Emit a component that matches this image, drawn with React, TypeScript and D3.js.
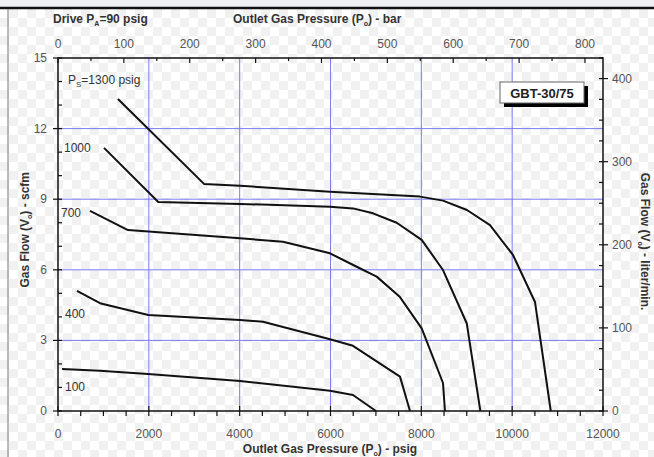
import * as d3 from "d3";

// outlet pressure (psig) vs gas flow (scfm), one array per supply pressure
const curve1300: [number, number][] = [
  [1320, 13.26], [3215, 9.65], [4007, 9.57], [5989, 9.32], [7971, 9.11],
  [8477, 8.94], [9005, 8.54], [9512, 7.9], [10018, 6.63], [10503, 4.63], [10850, 0],
];
const curve1000: [number, number][] = [
  [1013, 11.18], [2208, 8.88], [4007, 8.8], [5989, 8.68], [6495, 8.61],
  [6936, 8.4], [7457, 8.0], [8008, 7.27], [8477, 5.99], [8999, 3.73], [9300, 0],
];
const curve700: [number, number][] = [
  [705, 8.5], [1541, 7.69], [4007, 7.34], [4954, 7.19], [5989, 6.7],
  [6577, 6.13], [7017, 5.71], [7530, 4.84], [8008, 3.51], [8477, 1.19], [8520, 0],
];
const curve400: [number, number][] = [
  [418, 5.1], [925, 4.58], [1988, 4.08], [4007, 3.87], [4514, 3.79],
  [5989, 3.05], [6495, 2.77], [7530, 1.46], [7750, 0],
];
const curve100: [number, number][] = [
  [88, 1.78], [925, 1.71], [1982, 1.57], [4007, 1.27], [5989, 0.86], [6495, 0.68], [7000, 0],
];

const psigTicks = [0, 2000, 4000, 6000, 8000, 10000, 12000];
const scfmTicks = [0, 3, 6, 9, 12, 15];
const barTicks = [0, 100, 200, 300, 400, 500, 600, 700, 800];
const lpmTicks = [0, 100, 200, 300, 400];

const PSI_PER_BAR = 14.504;
const LPM_PER_SCFM = 28.317;

const W = 654;
const H = 457;
const font = "Arial, 'Liberation Sans', sans-serif";

export default function App() {
  const x = d3.scaleLinear().domain([0, 12000]).range([58, 603]);
  const y = d3.scaleLinear().domain([0, 15]).range([411, 58]);
  const xBar = (b: number) => x(b * PSI_PER_BAR);
  const yLpm = (l: number) => y(l / LPM_PER_SCFM);

  const line = d3
    .line<[number, number]>()
    .x((d) => x(d[0]))
    .y((d) => y(d[1]));

  const curves = [curve1300, curve1000, curve700, curve400, curve100];

  const minorPsig = d3.range(0, 12001, 500);
  const minorScfm = d3.range(0, 15.01, 1);
  const minorBar = d3.range(0, 801, 50);
  const minorLpm = d3.range(0, 426, 25);

  const tickCol = "#111";
  const labCol = "#555";

  return (
    <svg
      width={W}
      height={H}
      style={{ position: "absolute", left: 0, top: 0 }}
      fontFamily={font}
    >
      <defs>
        <pattern id="chk" width={18} height={18} patternUnits="userSpaceOnUse">
          <rect width={18} height={18} fill="#ffffff" />
          <rect width={9} height={9} fill="#f1f1f1" />
          <rect x={9} y={9} width={9} height={9} fill="#f1f1f1" />
        </pattern>
      </defs>
      <rect width={W} height={H} fill="url(#chk)" />
      <rect width={W} height={8} fill="#eef0f4" />
      <line x1={0} x2={W} y1={8} y2={8} stroke="#111" strokeWidth={2.5} />
      <line x1={8} x2={8} y1={9} y2={H} stroke="#777" strokeWidth={1} />

      {/* grid */}
      {psigTicks.slice(1, -1).map((t) => (
        <line key={"gx" + t} x1={x(t)} x2={x(t)} y1={y(15)} y2={y(0)} stroke="#7c7cf4" strokeWidth={1} />
      ))}
      {scfmTicks.slice(1, -1).map((t) => (
        <line key={"gy" + t} x1={x(0)} x2={x(12000)} y1={y(t)} y2={y(t)} stroke="#7c7cf4" strokeWidth={1} />
      ))}

      {/* frame */}
      <rect x={x(0)} y={y(15)} width={x(12000) - x(0)} height={y(0) - y(15)} fill="none" stroke="#111" strokeWidth={1.5} />

      {/* bottom ticks */}
      {minorPsig.map((t) => (
        <line key={"bt" + t} x1={x(t)} x2={x(t)} y1={y(0) - (t % 2000 === 0 ? 5 : 0)} y2={y(0) + 5} stroke={tickCol} strokeWidth={1.2} />
      ))}
      {psigTicks.map((t) => (
        <text key={"bl" + t} x={x(t)} y={438} fontSize={12} fill={labCol} textAnchor="middle">{t}</text>
      ))}

      {/* left ticks */}
      {minorScfm.map((t) => (
        <line key={"lt" + t} x1={x(0) - (t % 3 === 0 ? 5 : 0)} x2={x(0) + 4} y1={y(t)} y2={y(t)} stroke={tickCol} strokeWidth={1.2} />
      ))}
      {scfmTicks.map((t) => (
        <text key={"ll" + t} x={47} y={y(t) + 4} fontSize={12} fill={labCol} textAnchor="end">{t}</text>
      ))}

      {/* top ticks (bar) */}
      {minorBar.map((t) => (
        <line key={"tt" + t} x1={xBar(t)} x2={xBar(t)} y1={y(15)} y2={y(15) + (t % 100 === 0 ? 5 : 3)} stroke={tickCol} strokeWidth={1.2} />
      ))}
      {barTicks.map((t) => (
        <text key={"tl" + t} x={xBar(t)} y={48} fontSize={12} fill={labCol} textAnchor="middle">{t}</text>
      ))}

      {/* right ticks (liter/min) */}
      {minorLpm.map((t) => (
        <line key={"rt" + t} x1={x(12000) - 4} x2={x(12000) + (t % 100 === 0 ? 5 : 0)} y1={yLpm(t)} y2={yLpm(t)} stroke={tickCol} strokeWidth={1.2} />
      ))}
      {lpmTicks.map((t) => (
        <text key={"rl" + t} x={612} y={yLpm(t) + 4} fontSize={12} fill={labCol} textAnchor="start">{t}</text>
      ))}

      {/* curves */}
      {curves.map((c, i) => (
        <path key={"c" + i} d={line(c) ?? ""} fill="none" stroke="#111" strokeWidth={2} strokeLinejoin="round" />
      ))}

      {/* curve labels */}
      <g fontSize={12} fill="#333">
        <text x={68} y={84}>
          P<tspan fontSize={8} dy={3}>S</tspan>
          <tspan dy={-3}>=1300 psig</tspan>
        </text>
        <text x={64} y={152}>1000</text>
        <text x={61} y={217}>700</text>
        <text x={65} y={318}>400</text>
        <text x={65} y={391}>100</text>
      </g>

      {/* model box */}
      <rect x={504} y={86} width={84} height={21} fill="#000" />
      <rect x={500} y={82} width={84} height={21} fill="#fff" stroke="#666" strokeWidth={1} />
      <text x={542} y={97.5} fontSize={13} fill="#222" textAnchor="middle" fontWeight={600}>GBT-30/75</text>

      {/* titles */}
      <g fontSize={12} fontWeight="bold" fill="#333">
        <text x={53} y={23}>
          Drive P<tspan fontSize={7} dy={3}>A</tspan>
          <tspan dy={-3}>=90 psig</tspan>
        </text>
        <text x={233} y={23}>
          Outlet Gas Pressure (P<tspan fontSize={7} dy={3}>o</tspan>
          <tspan dy={-3}>) - bar</tspan>
        </text>
        <text x={330} y={453} textAnchor="middle">
          Outlet Gas Pressure (P<tspan fontSize={7} dy={3}>o</tspan>
          <tspan dy={-3}>) - psig</tspan>
        </text>
        <text transform={`translate(29,${y(7.7)}) rotate(-90)`} textAnchor="middle">
          Gas Flow (V<tspan fontSize={7} dy={3}>o</tspan>
          <tspan dy={-3}>) - scfm</tspan>
        </text>
        <text transform={`translate(641,${y(7.2)}) rotate(90)`} textAnchor="middle">
          Gas Flow (V<tspan fontSize={7} dy={3}>o</tspan>
          <tspan dy={-3}>) - liter/min.</tspan>
        </text>
      </g>
    </svg>
  );
}
